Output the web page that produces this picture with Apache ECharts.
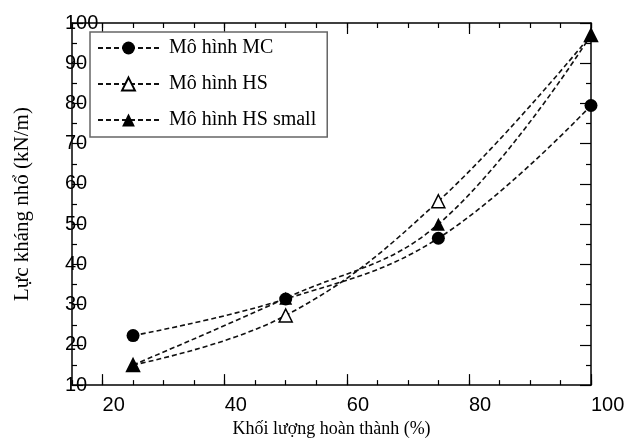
<!DOCTYPE html>
<html>
<head>
<meta charset="utf-8">
<script src="https://cdn.jsdelivr.net/npm/echarts@6/dist/echarts.min.js"></script>
<style>
html,body{margin:0;padding:0;background:#fff;}
#chart{width:639px;height:443px;}
</style>
</head>
<body>
<div id="chart"></div>
<script>
const xValues = [25, 50, 75, 100];
const mcValues = [22.3, 31.4, 46.5, 79.5];
const hsValues = [15, 27.3, 55.7, 97];
const hsSmallValues = [15, 31.6, 50, 97];
const seriesNames = ['Mô hình MC', 'Mô hình HS', 'Mô hình HS small'];
const xMajorTicks = [20, 40, 60, 80, 100];
const xAxisTitle = 'Khối lượng hoàn thành (%)';
const yAxisTitle = 'Lực kháng nhổ (kN/m)';

const pairs = (ys) => xValues.map((x, i) => [x, ys[i]]);
const axisColor = '#000';
const tickStyle = { color: axisColor, width: 1.2 };

function xAxisDef(position, major, withLabel) {
  const a = {
    type: 'value', min: 15, max: 100, position: position,
    axisLine: { show: major, onZero: false, lineStyle: { color: axisColor, width: 1.5 } },
    splitLine: { show: false },
    axisLabel: { show: false }
  };
  if (major) {
    a.axisTick = { inside: true, length: 11, customValues: xMajorTicks, lineStyle: tickStyle };
    if (withLabel) {
      a.axisLabel = { show: true, customValues: xMajorTicks, align: 'left', margin: 10,
        fontFamily: 'Liberation Sans', fontSize: 20, color: '#000' };
      a.name = xAxisTitle;
      a.nameLocation = 'middle';
      a.nameGap = 32;
      a.nameTextStyle = { fontFamily: 'Liberation Serif', fontSize: 18, color: '#000' };
    }
  } else {
    a.interval = 5;
    a.axisTick = { inside: true, length: 5, lineStyle: tickStyle };
  }
  return a;
}

function yAxisDef(position, withLabel) {
  const a = {
    type: 'value', min: 10, max: 100, interval: 10, position: position,
    axisLine: { show: true, onZero: false, lineStyle: { color: axisColor, width: 1.5 } },
    axisTick: { inside: true, length: 11, lineStyle: tickStyle },
    minorTick: { show: true, splitNumber: 2, length: 5, lineStyle: tickStyle },
    splitLine: { show: false },
    axisLabel: { show: false }
  };
  if (withLabel) {
    a.axisLabel = { show: true, align: 'left', margin: 7,
      fontFamily: 'Liberation Sans', fontSize: 20, color: '#000' };
    a.name = yAxisTitle;
    a.nameLocation = 'middle';
    a.nameGap = 39;
    a.nameTextStyle = { fontFamily: 'Liberation Serif', fontSize: 21, color: '#000' };
  }
  return a;
}

const lineStyle = { color: '#111', width: 1.6, type: [5, 3] };

const chart = echarts.init(document.getElementById('chart'));
chart.setOption({
  animation: false,
  backgroundColor: '#fff',
  grid: { left: 72, right: 48, top: 23, bottom: 54 },
  xAxis: [
    xAxisDef('bottom', true, true),
    xAxisDef('bottom', false, false),
    xAxisDef('top', true, false),
    xAxisDef('top', false, false)
  ],
  yAxis: [yAxisDef('left', true), yAxisDef('right', false)],
  legend: {
    orient: 'vertical', left: 90, top: 32,
    itemWidth: 61, itemHeight: 16, itemGap: 16,
    padding: [6, 11, 7, 7],
    borderColor: '#666', borderWidth: 1.5, backgroundColor: '#fff',
    textStyle: { fontFamily: 'Liberation Serif', fontSize: 20, color: '#000', padding: [0, 0, 0, 5] },
    data: seriesNames
  },
  series: [
    { name: seriesNames[0], type: 'line', smooth: 0.4, data: pairs(mcValues),
      symbol: 'circle', symbolSize: 13, lineStyle: lineStyle,
      itemStyle: { color: '#000' } },
    { name: seriesNames[1], type: 'line', smooth: 0.4, data: pairs(hsValues),
      symbol: 'triangle', symbolSize: 13, lineStyle: lineStyle,
      itemStyle: { color: '#fff', borderColor: '#000', borderWidth: 1.5 } },
    { name: seriesNames[2], type: 'line', smooth: 0.4, data: pairs(hsSmallValues),
      symbol: 'triangle', symbolSize: 13, lineStyle: lineStyle,
      itemStyle: { color: '#000' } }
  ]
});
</script>
</body>
</html>
